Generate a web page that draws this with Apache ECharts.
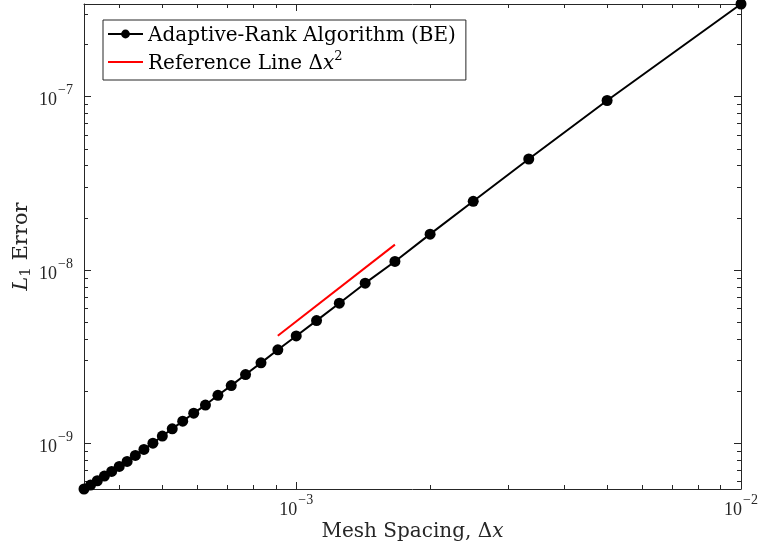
<!DOCTYPE html>
<html lang="en">
<head>
<meta charset="UTF-8">
<title>Convergence</title>
<style>
  * { margin: 0; padding: 0; }
  html, body { width: 100%; height: 100%; background: #fff; }
  #chart { width: 758px; height: 550px; }
</style>
</head>
<body>
<div id="chart"></div>
<script src="https://cdn.jsdelivr.net/npm/echarts@6/dist/echarts.min.js"></script>
<script>
// mesh spacing dx = 1/N for N = 100, 200, ..., 3000
var meshSpacing = [1e-2, 5e-3, 3.333e-3, 2.5e-3, 2e-3, 1.667e-3, 1.429e-3, 1.25e-3, 1.111e-3, 1e-3,
  9.091e-4, 8.333e-4, 7.692e-4, 7.143e-4, 6.667e-4, 6.25e-4, 5.882e-4, 5.556e-4, 5.263e-4, 5e-4,
  4.762e-4, 4.545e-4, 4.348e-4, 4.167e-4, 4e-4, 3.846e-4, 3.704e-4, 3.571e-4, 3.448e-4, 3.333e-4];
var l1Error = [3.43e-7, 9.51e-8, 4.37e-8, 2.49e-8, 1.61e-8, 1.12e-8, 8.39e-9, 6.43e-9, 5.10e-9, 4.16e-9,
  3.46e-9, 2.91e-9, 2.49e-9, 2.15e-9, 1.89e-9, 1.66e-9, 1.49e-9, 1.34e-9, 1.21e-9, 1.10e-9,
  1.00e-9, 9.21e-10, 8.50e-10, 7.85e-10, 7.34e-10, 6.87e-10, 6.46e-10, 6.07e-10, 5.73e-10, 5.44e-10];

// reference line dx^2
var refSpacing = [9.091e-4, 1.667e-3];
var refError = [4.17e-9, 1.40e-8];

var xMajor = [1e-3, 1e-2];
var xMinor = [4e-4, 5e-4, 6e-4, 7e-4, 8e-4, 9e-4, 2e-3, 3e-3, 4e-3, 5e-3, 6e-3, 7e-3, 8e-3, 9e-3];
var yMajor = [1e-9, 1e-8, 1e-7];
var yMinor = [6e-10, 7e-10, 8e-10, 9e-10, 2e-9, 3e-9, 4e-9, 5e-9, 6e-9, 7e-9, 8e-9, 9e-9,
  2e-8, 3e-8, 4e-8, 5e-8, 6e-8, 7e-8, 8e-8, 9e-8, 2e-7, 3e-7];

var FONT = '"DejaVu Serif", "Liberation Serif", serif';
var TICKFONT = '"Liberation Serif", "DejaVu Serif", serif';
var INK = '#262626';

var xMin = meshSpacing[meshSpacing.length - 1], xMax = meshSpacing[0];
var yMin = l1Error[l1Error.length - 1], yMax = l1Error[0];

function powLabel(v) {
  var e = Math.round(Math.log10(v));
  return '{b|10}{s|−' + Math.abs(e) + '}';
}
var powRich = {
  b: { fontFamily: TICKFONT, fontSize: 18, color: INK, lineHeight: 26, verticalAlign: 'bottom' },
  s: { fontFamily: TICKFONT, fontSize: 14, color: INK, lineHeight: 14, verticalAlign: 'top', padding: [0, 0, 0, 1] }
};

// one axis per side for major ticks, one for minor ticks
function xAx(pos, ticks, len, withLabels) {
  return {
    type: 'log', logBase: 10, position: pos, min: xMin, max: xMax,
    axisLine: { show: len === 7, lineStyle: { color: INK, width: 1 } },
    axisTick: { show: true, inside: true, length: len, customValues: ticks,
      lineStyle: { color: INK, width: 1 } },
    axisLabel: withLabels ? { show: true, customValues: ticks, margin: 4,
      fontSize: 18, fontFamily: TICKFONT, formatter: powLabel, rich: powRich } : { show: false },
    splitLine: { show: false }
  };
}
function yAx(pos, ticks, len, withLabels) {
  return {
    type: 'log', logBase: 10, position: pos, min: yMin, max: yMax,
    axisLine: { show: len === 7, lineStyle: { color: INK, width: 1 } },
    axisTick: { show: true, inside: true, length: len, customValues: ticks,
      lineStyle: { color: INK, width: 1 } },
    axisLabel: withLabels ? { show: true, customValues: ticks, margin: 11,
      fontSize: 18, fontFamily: TICKFONT, formatter: powLabel, rich: powRich } : { show: false },
    splitLine: { show: false }
  };
}

var xAxes = [
  xAx('bottom', xMajor, 7, true),
  xAx('bottom', xMinor, 4, false),
  xAx('top', xMajor, 7, false),
  xAx('top', xMinor, 4, false)
];
xAxes[0].name = '{r|Mesh Spacing, Δ}{i|x}';
xAxes[0].nameLocation = 'middle';
xAxes[0].nameGap = 33;
xAxes[0].nameMoveOverlap = false;
xAxes[0].nameTextStyle = { rich: {
  r: { fontFamily: FONT, fontSize: 20, color: INK },
  i: { fontFamily: FONT, fontSize: 20, color: INK, fontStyle: 'italic' }
} };

var yAxes = [
  yAx('left', yMajor, 7, true),
  yAx('left', yMinor, 4, false),
  yAx('right', yMajor, 7, false),
  yAx('right', yMinor, 4, false)
];
yAxes[0].name = '{i|L}{sub|1}{r| Error}';
yAxes[0].nameLocation = 'middle';
yAxes[0].nameGap = 50;
yAxes[0].nameMoveOverlap = false;
yAxes[0].nameTextStyle = { rich: {
  i: { fontFamily: FONT, fontSize: 21, color: INK, fontStyle: 'italic', lineHeight: 23, verticalAlign: 'top' },
  sub: { fontFamily: FONT, fontSize: 15, color: INK, lineHeight: 15, verticalAlign: 'bottom' },
  r: { fontFamily: FONT, fontSize: 21, color: INK, lineHeight: 23, verticalAlign: 'top' }
} };

var chart = echarts.init(document.getElementById('chart'), null, { renderer: 'canvas' });
chart.setOption({
  animation: false,
  backgroundColor: '#fff',
  grid: { left: 84, right: 17, top: 4, bottom: 61, containLabel: false, outerBoundsMode: 'none' },
  legend: {
    orient: 'vertical', left: 103, top: 20,
    backgroundColor: '#fff', borderColor: INK, borderWidth: 1, borderRadius: 0,
    padding: [2, 10, 6, 4], itemGap: 4, itemWidth: 35, itemHeight: 11, itemTextGap: 4,
    data: [
      { name: 'Adaptive-Rank Algorithm (BE)' },
      { name: 'Reference Line', itemStyle: { opacity: 0 } }
    ],
    formatter: function (name) {
      return name === 'Reference Line' ? '{r|Reference Line Δ}{i|x}{s|2}' : '{r|' + name + '}';
    },
    textStyle: { fontFamily: FONT, fontSize: 20, color: '#000', lineHeight: 24,
      rich: {
        r: { fontFamily: FONT, fontSize: 20, color: '#000', lineHeight: 24, verticalAlign: 'bottom' },
        i: { fontFamily: FONT, fontSize: 20, color: '#000', fontStyle: 'italic', lineHeight: 24, verticalAlign: 'bottom' },
        s: { fontFamily: FONT, fontSize: 13, color: '#000', lineHeight: 13, verticalAlign: 'top' }
      } }
  },
  xAxis: xAxes,
  yAxis: yAxes,
  series: [
    {
      name: 'Adaptive-Rank Algorithm (BE)', type: 'line', xAxisIndex: 0, yAxisIndex: 0,
      data: meshSpacing.map(function (dx, i) { return [dx, l1Error[i]]; }),
      symbol: 'circle', symbolSize: 11, color: '#000',
      lineStyle: { color: '#000', width: 2 }, itemStyle: { color: '#000' }, z: 3
    },
    {
      name: 'Reference Line', type: 'line', xAxisIndex: 0, yAxisIndex: 0,
      data: refSpacing.map(function (dx, i) { return [dx, refError[i]]; }),
      symbol: 'none', color: '#ff0000',
      lineStyle: { color: '#ff0000', width: 2 }, z: 2
    }
  ]
});
</script>
</body>
</html>
